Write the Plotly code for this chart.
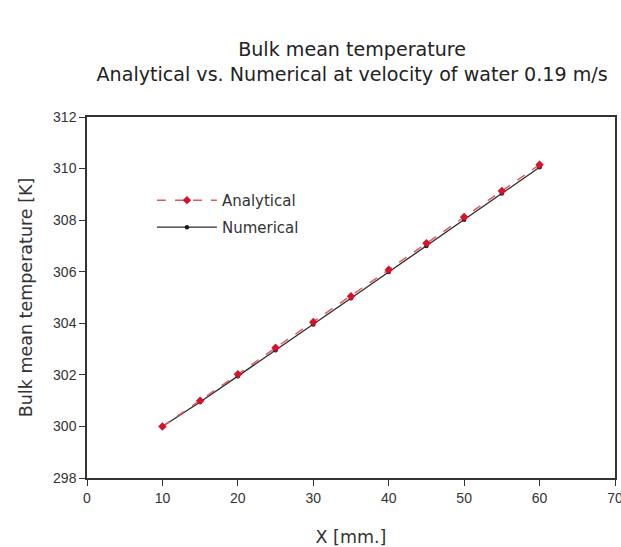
import plotly.graph_objects as go

# Axial position along the tube [mm]
x_mm = [10, 15, 20, 25, 30, 35, 40, 45, 50, 55, 60]

# Bulk mean temperature [K]
t_analytical = [300.0, 301.0, 302.02, 303.05, 304.05, 305.05, 306.08, 307.1, 308.12, 309.13, 310.15]
t_numerical = [300.0, 300.95, 301.95, 302.95, 303.95, 304.97, 305.99, 307.0, 308.02, 309.03, 310.05]

x_ticks = [0, 10, 20, 30, 40, 50, 60, 70]
y_ticks = [298, 300, 302, 304, 306, 308, 310, 312]

fig = go.Figure()

fig.add_trace(go.Scatter(
    x=x_mm, y=t_numerical, name="Numerical", mode="lines+markers",
    line=dict(color="#2a2a2a", width=1.3),
    marker=dict(symbol="circle", size=4.5, color="#1a1a1a"),
    legend="legend2",
))
fig.add_trace(go.Scatter(
    x=x_mm, y=t_analytical, name="Analytical", mode="lines+markers",
    line=dict(color="#e05a66", width=1.5, dash="dash"),
    marker=dict(symbol="diamond", size=6.5, color="#d8102a"),
    legend="legend",
))

tick_font = dict(family="Liberation Sans", size=14, color="#333333")
title_font = dict(family="DejaVu Sans", size=17.5, color="#333333")
legend_font = dict(family="DejaVu Sans", size=15, color="#333333")

fig.update_layout(
    width=621, height=547,
    margin=dict(l=87, r=6, t=117, b=69, autoexpand=False),
    paper_bgcolor="white", plot_bgcolor="white",
    showlegend=True,
    legend=dict(
        x=0.123, y=0.769, xanchor="left", yanchor="middle",
        font=legend_font, bgcolor="rgba(0,0,0,0)", itemwidth=60,
    ),
    legend2=dict(
        x=0.123, y=0.694, xanchor="left", yanchor="middle",
        font=legend_font, bgcolor="rgba(0,0,0,0)", itemwidth=60,
    ),
    title=dict(
        text="Bulk mean temperature<br>Analytical vs. Numerical at velocity of water 0.19 m/s",
        x=0.567, xanchor="center", y=0.897, yanchor="middle",
        font=dict(family="DejaVu Sans", size=19.1, color="#222222"),
    ),
)

fig.update_xaxes(
    range=[0, 70], tickvals=x_ticks, ticktext=[str(v) for v in x_ticks],
    showline=True, linecolor="#333333", linewidth=1.5, mirror=True,
    ticks="outside", ticklen=6, tickcolor="#333333", ticklabeloverflow="allow",
    showgrid=False, zeroline=False, tickfont=tick_font, automargin=False,
    title=dict(text="X [mm.]", font=title_font, standoff=32),
)
fig.update_yaxes(
    range=[298, 312], tickvals=y_ticks, ticktext=[str(v) for v in y_ticks],
    showline=True, linecolor="#333333", linewidth=1.5, mirror=True,
    ticks="outside", ticklen=6, tickcolor="#333333",
    showgrid=False, zeroline=False, tickfont=tick_font, automargin=False,
    title=dict(text="Bulk mean temperature [K]", font=title_font, standoff=16),
)

fig.write_html("out.html")
